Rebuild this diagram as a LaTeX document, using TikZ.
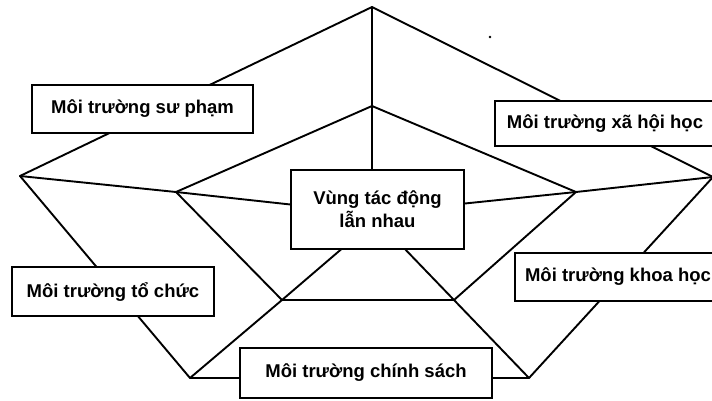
\documentclass[tikz,border=0pt]{standalone}
\usepackage{fontspec}
\setmainfont{Liberation Sans}
\begin{document}
\begin{tikzpicture}[x=1pt,y=-1pt,
  ln/.style={line width=1.9pt, line join=round, line cap=round},
  env/.style={draw, line width=1.7pt, fill=white, inner sep=0pt, align=center,
    font=\fontsize{18.5}{23}\selectfont\bfseries},
]
\useasboundingbox (0,0) rectangle (712,401);
\clip (0,0) rectangle (712,401);
% outer pentagon vertices
\coordinate (OT) at (372,7);
\coordinate (OL) at (20,176);
\coordinate (OR) at (713,177);
\coordinate (OBL) at (190,378);
\coordinate (OBR) at (529,378);
% inner pentagon vertices
\coordinate (IT) at (372,106);
\coordinate (IL) at (176,192);
\coordinate (IR) at (576,192);
\coordinate (IBL) at (282,300);
\coordinate (IBR) at (454,300);
% points on the central box
\coordinate (cT) at (372,175);
\coordinate (cL) at (295,205);
\coordinate (cR) at (460,204);
\coordinate (cBL) at (345,246);
\coordinate (cBR) at (402,246);
% outer pentagon
\draw[ln] (OT) -- (OL) -- (OBL) -- (OBR) -- (OR) -- cycle;
% inner pentagon
\draw[ln] (IT) -- (IL) -- (IBL) -- (IBR) -- (IR) -- cycle;
% spokes
\draw[ln] (OT) -- (IT) -- (cT);
\draw[ln] (OL) -- (IL) -- (cL);
\draw[ln] (OR) -- (IR) -- (cR);
\draw[ln] (OBL) -- (IBL) -- (cBL);
\draw[ln] (OBR) -- (IBR) -- (cBR);
% boxes
\node[env, minimum width=173pt, minimum height=79pt] (c) at (377.5,209.5) {Vùng tác động\\lẫn nhau};
\node[env, minimum width=221pt, minimum height=48pt] (sp) at (142.5,109) {Môi trường sư phạm};
\node[env, minimum width=220pt, minimum height=45pt] (xh) at (605,123.5) {Môi trường xã hội học};
\node[env, minimum width=206pt, minimum height=48pt] (kh) at (618,277) {Môi trường khoa học};
\node[env, minimum width=202pt, minimum height=49pt] (tc) at (113,291.5) {Môi trường tổ chức};
\node[env, minimum width=252pt, minimum height=50pt] (cs) at (366,373) {Môi trường chính sách};
% scan speck
\fill (490,37) circle (1.3pt);
\end{tikzpicture}
\end{document}
